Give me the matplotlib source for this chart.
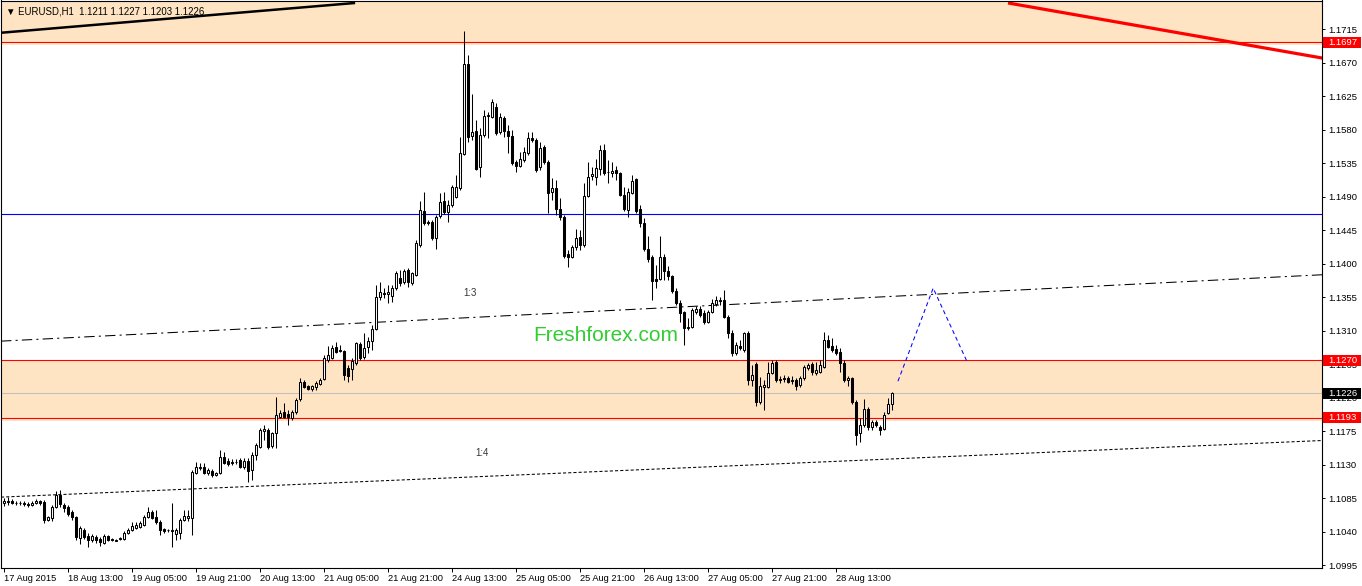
import matplotlib
matplotlib.use("Agg")
import matplotlib.pyplot as plt
from matplotlib.patches import Rectangle
import numpy as np

plt.rcParams['font.family'] = ['Liberation Sans', 'DejaVu Sans']

# EURUSD H1, one candle per hour starting 17 Aug 2015 21:00
opens = [
    1.1079, 1.1081, 1.1081, 1.1079, 1.1079, 1.1079, 1.1077, 1.1076, 1.1079, 1.1081,
    1.1080, 1.1056, 1.1058, 1.1073, 1.1089, 1.1076, 1.1073, 1.1066, 1.1060, 1.1031,
    1.1042, 1.1034, 1.1029, 1.1033, 1.1030, 1.1025, 1.1034, 1.1030, 1.1029, 1.1030,
    1.1030, 1.1038, 1.1042, 1.1045, 1.1046, 1.1049, 1.1060, 1.1066, 1.1060, 1.1053,
    1.1044, 1.1042, 1.1041, 1.1037, 1.1038, 1.1056, 1.1058, 1.1058, 1.1119, 1.1126,
    1.1127, 1.1119, 1.1121, 1.1116, 1.1119, 1.1140, 1.1135, 1.1132, 1.1134, 1.1136,
    1.1127, 1.1135, 1.1123, 1.1143, 1.1154, 1.1175, 1.1177, 1.1155, 1.1173, 1.1194,
    1.1201, 1.1198, 1.1193, 1.1201, 1.1218, 1.1241, 1.1236, 1.1232, 1.1234, 1.1238,
    1.1245, 1.1271, 1.1273, 1.1288, 1.1284, 1.1283, 1.1260, 1.1258, 1.1267, 1.1292,
    1.1275, 1.1288, 1.1296, 1.1312, 1.1355, 1.1361, 1.1359, 1.1357, 1.1367, 1.1381,
    1.1375, 1.1391, 1.1374, 1.1385, 1.1425, 1.1471, 1.1456, 1.1456, 1.1434, 1.1464,
    1.1484, 1.1469, 1.1479, 1.1489, 1.1502, 1.1547, 1.1668, 1.1571, 1.1578, 1.1530,
    1.1573, 1.1598, 1.1597, 1.1610, 1.1577, 1.1596, 1.1578, 1.1571, 1.1536, 1.1531,
    1.1539, 1.1549, 1.1569, 1.1566, 1.1530, 1.1557, 1.1536, 1.1496, 1.1502, 1.1473,
    1.1463, 1.1413, 1.1409, 1.1422, 1.1436, 1.1425, 1.1491, 1.1518, 1.1516, 1.1527,
    1.1553, 1.1523, 1.1522, 1.1526, 1.1522, 1.1492, 1.1472, 1.1495, 1.1514, 1.1473,
    1.1455, 1.1420, 1.1409, 1.1379, 1.1379, 1.1409, 1.1390, 1.1383, 1.1363, 1.1347,
    1.1335, 1.1313, 1.1315, 1.1335, 1.1339, 1.1334, 1.1322, 1.1335, 1.1346, 1.1351,
    1.1351, 1.1328, 1.1307, 1.1280, 1.1289, 1.1284, 1.1307, 1.1244, 1.1265, 1.1214,
    1.1234, 1.1234, 1.1253, 1.1268, 1.1244, 1.1245, 1.1246, 1.1242, 1.1244, 1.1237,
    1.1246, 1.1260, 1.1265, 1.1253, 1.1254, 1.1261, 1.1297, 1.1289, 1.1285, 1.1281,
    1.1267, 1.1244, 1.1246, 1.1214, 1.1173, 1.1183, 1.1205, 1.1180, 1.1187, 1.1180,
    1.1178, 1.1199, 1.1211,
]
highs = [
    1.1085, 1.1087, 1.1084, 1.1081, 1.1081, 1.1081, 1.1080, 1.1081, 1.1084, 1.1083,
    1.1083, 1.1061, 1.1076, 1.1095, 1.1096, 1.1079, 1.1076, 1.1069, 1.1061, 1.1048,
    1.1045, 1.1038, 1.1037, 1.1036, 1.1033, 1.1037, 1.1036, 1.1031, 1.1030, 1.1033,
    1.1041, 1.1045, 1.1053, 1.1053, 1.1054, 1.1062, 1.1073, 1.1069, 1.1069, 1.1056,
    1.1045, 1.1044, 1.1079, 1.1045, 1.1058, 1.1069, 1.1069, 1.1123, 1.1134, 1.1132,
    1.1132, 1.1126, 1.1124, 1.1120, 1.1150, 1.1147, 1.1139, 1.1138, 1.1138, 1.1139,
    1.1139, 1.1139, 1.1147, 1.1159, 1.1179, 1.1183, 1.1179, 1.1174, 1.1221, 1.1203,
    1.1213, 1.1203, 1.1203, 1.1219, 1.1246, 1.1244, 1.1237, 1.1237, 1.1242, 1.1246,
    1.1277, 1.1289, 1.1291, 1.1295, 1.1291, 1.1284, 1.1264, 1.1273, 1.1295, 1.1295,
    1.1307, 1.1301, 1.1318, 1.1371, 1.1375, 1.1367, 1.1371, 1.1371, 1.1390, 1.1391,
    1.1393, 1.1394, 1.1389, 1.1432, 1.1484, 1.1496, 1.1459, 1.1459, 1.1465, 1.1495,
    1.1496, 1.1485, 1.1506, 1.1519, 1.1570, 1.1712, 1.1680, 1.1628, 1.1593, 1.1582,
    1.1606, 1.1604, 1.1621, 1.1616, 1.1602, 1.1598, 1.1586, 1.1579, 1.1539, 1.1550,
    1.1557, 1.1577, 1.1577, 1.1569, 1.1563, 1.1559, 1.1539, 1.1515, 1.1512, 1.1488,
    1.1465, 1.1418, 1.1425, 1.1446, 1.1445, 1.1508, 1.1536, 1.1530, 1.1540, 1.1559,
    1.1561, 1.1539, 1.1536, 1.1531, 1.1523, 1.1503, 1.1502, 1.1519, 1.1515, 1.1479,
    1.1461, 1.1437, 1.1412, 1.1398, 1.1437, 1.1413, 1.1397, 1.1385, 1.1367, 1.1351,
    1.1336, 1.1327, 1.1340, 1.1343, 1.1343, 1.1338, 1.1338, 1.1352, 1.1357, 1.1355,
    1.1365, 1.1331, 1.1311, 1.1295, 1.1297, 1.1308, 1.1309, 1.1264, 1.1268, 1.1248,
    1.1244, 1.1268, 1.1271, 1.1271, 1.1249, 1.1250, 1.1249, 1.1249, 1.1246, 1.1249,
    1.1264, 1.1267, 1.1268, 1.1268, 1.1271, 1.1308, 1.1304, 1.1300, 1.1291, 1.1287,
    1.1271, 1.1249, 1.1248, 1.1217, 1.1193, 1.1218, 1.1207, 1.1190, 1.1190, 1.1183,
    1.1201, 1.1219, 1.1227,
]
lows = [
    1.1074, 1.1076, 1.1077, 1.1076, 1.1076, 1.1074, 1.1073, 1.1074, 1.1077, 1.1076,
    1.1052, 1.1054, 1.1054, 1.1072, 1.1073, 1.1066, 1.1061, 1.1056, 1.1029, 1.1023,
    1.1030, 1.1019, 1.1026, 1.1025, 1.1021, 1.1023, 1.1027, 1.1027, 1.1027, 1.1029,
    1.1029, 1.1037, 1.1041, 1.1044, 1.1045, 1.1048, 1.1058, 1.1057, 1.1050, 1.1036,
    1.1038, 1.1040, 1.1019, 1.1029, 1.1030, 1.1054, 1.1054, 1.1036, 1.1117, 1.1123,
    1.1117, 1.1116, 1.1113, 1.1115, 1.1117, 1.1131, 1.1128, 1.1130, 1.1131, 1.1126,
    1.1124, 1.1107, 1.1109, 1.1136, 1.1152, 1.1163, 1.1151, 1.1152, 1.1152, 1.1193,
    1.1193, 1.1183, 1.1190, 1.1198, 1.1215, 1.1233, 1.1230, 1.1229, 1.1230, 1.1237,
    1.1244, 1.1268, 1.1272, 1.1280, 1.1281, 1.1244, 1.1241, 1.1244, 1.1264, 1.1271,
    1.1272, 1.1280, 1.1284, 1.1311, 1.1351, 1.1354, 1.1347, 1.1348, 1.1365, 1.1370,
    1.1373, 1.1369, 1.1371, 1.1383, 1.1422, 1.1452, 1.1452, 1.1432, 1.1420, 1.1461,
    1.1467, 1.1456, 1.1476, 1.1488, 1.1499, 1.1546, 1.1563, 1.1566, 1.1526, 1.1516,
    1.1570, 1.1569, 1.1596, 1.1573, 1.1574, 1.1570, 1.1549, 1.1532, 1.1523, 1.1530,
    1.1536, 1.1546, 1.1563, 1.1523, 1.1526, 1.1534, 1.1468, 1.1485, 1.1465, 1.1459,
    1.1407, 1.1395, 1.1407, 1.1418, 1.1418, 1.1422, 1.1489, 1.1512, 1.1506, 1.1519,
    1.1519, 1.1508, 1.1516, 1.1512, 1.1491, 1.1471, 1.1463, 1.1493, 1.1468, 1.1449,
    1.1417, 1.1402, 1.1351, 1.1367, 1.1378, 1.1378, 1.1378, 1.1361, 1.1344, 1.1322,
    1.1291, 1.1311, 1.1313, 1.1332, 1.1328, 1.1319, 1.1320, 1.1334, 1.1343, 1.1344,
    1.1327, 1.1300, 1.1276, 1.1277, 1.1284, 1.1281, 1.1237, 1.1236, 1.1209, 1.1211,
    1.1203, 1.1233, 1.1252, 1.1241, 1.1240, 1.1241, 1.1240, 1.1238, 1.1230, 1.1234,
    1.1244, 1.1257, 1.1250, 1.1250, 1.1253, 1.1260, 1.1287, 1.1281, 1.1277, 1.1254,
    1.1241, 1.1236, 1.1211, 1.1156, 1.1160, 1.1180, 1.1177, 1.1177, 1.1180, 1.1170,
    1.1177, 1.1198, 1.1203,
]
closes = [
    1.1081, 1.1080, 1.1079, 1.1079, 1.1079, 1.1077, 1.1076, 1.1079, 1.1081, 1.1079,
    1.1056, 1.1060, 1.1073, 1.1089, 1.1077, 1.1072, 1.1064, 1.1060, 1.1033, 1.1045,
    1.1033, 1.1029, 1.1034, 1.1029, 1.1026, 1.1034, 1.1029, 1.1029, 1.1028, 1.1031,
    1.1038, 1.1042, 1.1048, 1.1049, 1.1052, 1.1060, 1.1066, 1.1058, 1.1053, 1.1042,
    1.1041, 1.1042, 1.1042, 1.1042, 1.1056, 1.1061, 1.1061, 1.1120, 1.1127, 1.1127,
    1.1119, 1.1123, 1.1116, 1.1119, 1.1140, 1.1132, 1.1131, 1.1134, 1.1133, 1.1127,
    1.1135, 1.1121, 1.1143, 1.1156, 1.1177, 1.1178, 1.1154, 1.1173, 1.1197, 1.1199,
    1.1194, 1.1194, 1.1201, 1.1217, 1.1241, 1.1234, 1.1232, 1.1236, 1.1240, 1.1244,
    1.1273, 1.1277, 1.1287, 1.1281, 1.1283, 1.1250, 1.1249, 1.1269, 1.1293, 1.1273,
    1.1287, 1.1296, 1.1312, 1.1355, 1.1362, 1.1359, 1.1362, 1.1367, 1.1387, 1.1374,
    1.1390, 1.1375, 1.1387, 1.1428, 1.1472, 1.1455, 1.1455, 1.1434, 1.1463, 1.1483,
    1.1469, 1.1479, 1.1503, 1.1503, 1.1549, 1.1668, 1.1570, 1.1577, 1.1527, 1.1573,
    1.1598, 1.1600, 1.1617, 1.1575, 1.1597, 1.1578, 1.1571, 1.1535, 1.1531, 1.1540,
    1.1550, 1.1569, 1.1566, 1.1526, 1.1555, 1.1536, 1.1495, 1.1502, 1.1473, 1.1463,
    1.1410, 1.1409, 1.1422, 1.1434, 1.1425, 1.1491, 1.1516, 1.1520, 1.1528, 1.1553,
    1.1522, 1.1523, 1.1524, 1.1522, 1.1492, 1.1473, 1.1496, 1.1511, 1.1471, 1.1455,
    1.1420, 1.1406, 1.1377, 1.1377, 1.1409, 1.1390, 1.1383, 1.1363, 1.1347, 1.1334,
    1.1313, 1.1315, 1.1338, 1.1339, 1.1331, 1.1322, 1.1335, 1.1347, 1.1351, 1.1350,
    1.1328, 1.1307, 1.1280, 1.1291, 1.1287, 1.1307, 1.1244, 1.1250, 1.1214, 1.1236,
    1.1237, 1.1253, 1.1267, 1.1244, 1.1245, 1.1246, 1.1241, 1.1244, 1.1236, 1.1246,
    1.1261, 1.1264, 1.1254, 1.1257, 1.1264, 1.1297, 1.1288, 1.1284, 1.1280, 1.1267,
    1.1244, 1.1246, 1.1214, 1.1170, 1.1183, 1.1205, 1.1180, 1.1187, 1.1183, 1.1177,
    1.1197, 1.1212, 1.1226,
]

date_labels = ["17 Aug 2015", "18 Aug 13:00", "19 Aug 05:00", "19 Aug 21:00",
               "20 Aug 13:00", "21 Aug 05:00", "21 Aug 21:00", "24 Aug 13:00",
               "25 Aug 05:00", "25 Aug 21:00", "26 Aug 13:00", "27 Aug 05:00",
               "27 Aug 21:00", "28 Aug 13:00"]
label_step = 16  # bars between date labels

# drawn objects (price levels / trendline anchors as bar index, price)
resistance_zone = (1.1694, 1.1760)
support_zone = (1.1189, 1.1270)
red_levels = [1.1697, 1.1270, 1.1193]
blue_level = 1.1467
last_price = 1.1226
black_trend_x = [-0.6, 87.9]
black_trend_y = [1.1710, 1.1750]
red_trend_x = [251.1, 335.0]
red_trend_y = [1.1750, 1.1671]
channel_top = [(-0.1, 1.1296), (329.6, 1.1385)]
channel_bottom = [(-0.1, 1.10865), (329.6, 1.11624)]
forecast_x = [223.6, 232.4, 240.9]
forecast_y = [1.1242, 1.1367, 1.1268]

fig = plt.figure(figsize=(13.62, 5.86), dpi=100)
ax = fig.add_axes([1 / 1362, 18 / 586, 1321 / 1362, 567.5 / 586])
ax.set_xlim(-0.625, 329.6)
ax.set_ylim(1.09912, 1.17533)

bisque = '#ffe4c4'
ax.axhspan(*resistance_zone, color=bisque, lw=0, zorder=0)
ax.axhspan(*support_zone, color=bisque, lw=0, zorder=0)
for lvl in red_levels:
    ax.axhline(lvl, color='#ff0000', lw=0.8, zorder=1)
ax.axhline(blue_level, color='#0000ff', lw=0.8, zorder=1)
ax.axhline(last_price, color='#c0c0c0', lw=0.8, zorder=1)

ax.plot(black_trend_x, black_trend_y, color='black', lw=1.8, zorder=1,
        solid_capstyle='butt')
ax.plot(red_trend_x, red_trend_y, color='#ff0000', lw=2.3, zorder=1,
        solid_capstyle='butt')
ax.axline(*channel_top, color='black', lw=0.75, dashes=(10, 4, 2, 4), zorder=1)
ax.axline(*channel_bottom, color='black', lw=0.75, dashes=(3, 2), zorder=1)
ax.plot(forecast_x, forecast_y, color='#0000ff', lw=0.75, dashes=(4, 3), zorder=1)

# candles
o = np.array(opens)
h = np.array(highs)
l = np.array(lows)
c = np.array(closes)
idx = np.arange(len(o))
ax.vlines(idx, l, h, color='black', lw=0.75, zorder=3)
bull = c >= o
body_lo = np.minimum(o, c)
body_h = np.abs(c - o)
ax.bar(idx[bull], body_h[bull], bottom=body_lo[bull], width=0.5,
       facecolor='white', edgecolor='black', linewidth=0.75, zorder=4)
ax.bar(idx[~bull], body_h[~bull], bottom=body_lo[~bull], width=0.5,
       facecolor='black', edgecolor='black', linewidth=0.75, zorder=4)

# texts on chart
ax.text(116.5, 1.1361, "1:3", fontsize=7, color='#333333', ha='center', va='center')
ax.text(119.5, 1.1145, "1:4", fontsize=7, color='#333333', ha='center', va='center')
ax.text(150.5, 1.1303, "Freshforex.com", fontsize=15, color='#33cc33',
        ha='center', va='center')
fig.text(6 / 1362, 1 - 11 / 586, "\u25bc EURUSD,H1  1.1211 1.1227 1.1203 1.1226",
         fontsize=6.9, color='black', ha='left', va='center')

# axes styling
for side in ['left', 'top', 'right', 'bottom']:
    ax.spines[side].set_color('black')
    ax.spines[side].set_linewidth(0.8)
ax.yaxis.tick_right()
yt = np.arange(1.0995, 1.1716, 0.0045)
ax.set_yticks(yt)
ax.set_yticklabels([f"{v:.4f}" for v in yt])
ax.tick_params(axis='y', direction='out', length=2.2, width=0.7, pad=2.2,
               labelsize=6.8, colors='black')
xt = np.arange(len(date_labels)) * label_step
ax.set_xticks(xt)
ax.set_xticklabels(date_labels, ha='left')
ax.tick_params(axis='x', direction='out', length=3, width=0.7, pad=1.5,
               labelsize=6.7, colors='black')

# price tags on the right scale
tags = [(1.1697, '#ff0000'), (1.1270, '#ff0000'), (1.1193, '#ff0000'), (1.1226, 'black')]
ytr = ax.get_yaxis_transform()
box_h = 11 * (1.17533 - 1.09912) / 567.5
for price, col in tags:
    ax.add_patch(Rectangle((1.0008, price - box_h / 2), 0.0285, box_h,
                           transform=ytr, facecolor=col, edgecolor='none',
                           clip_on=False, zorder=10))
    ax.text(1.0048, price, f"{price:.4f}", transform=ytr, fontsize=6.8,
            color='white', ha='left', va='center', clip_on=False, zorder=11)

fig.savefig("out.png", dpi=100)
